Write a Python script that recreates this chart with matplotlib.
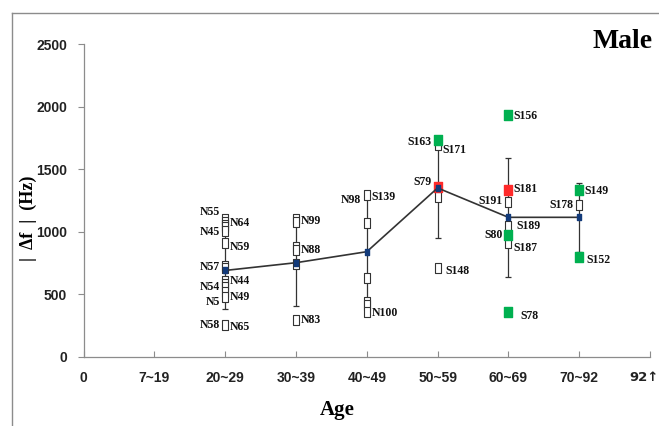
import matplotlib
matplotlib.use("Agg")
import matplotlib.pyplot as plt
from matplotlib.path import Path
from matplotlib.lines import Line2D
from matplotlib.transforms import ScaledTranslation

# ---------------- data ----------------
tick_labels = ["0", "7~19", "20~29", "30~39", "40~49", "50~59", "60~69", "70~92", "92\u2191"]
groups = ["20~29", "30~39", "40~49", "50~59", "60~69", "70~92"]
mean_vals = [690, 752, 840, 1350, 1115, 1115]
sd_vals = [305, 345, 420, 400, 478, 275]

# individual subjects (open squares)
open_20_29 = [1099, 1078, 1056, 1035, 1008, 912, 726, 710, 608, 582, 555, 520, 480, 250]
open_30_39 = [1100, 1075, 880, 855, 745, 295]
open_40_49 = [1294, 1067, 627, 440, 410, 360]
open_50_59 = [1720, 1690, 1280, 712]
open_60_69 = [1236, 1048, 906]
open_70_92 = [1210]

# highlighted subjects
green_group = ["50~59", "60~69", "60~69", "60~69", "70~92", "70~92"]
green_vals = [1735, 1935, 976, 355, 1331, 801]
red_group = ["50~59", "60~69"]
red_vals = [1355, 1336]

# point labels: text, group, value where label sits, side
lab_text = ["N55", "N64", "N45", "N59", "N57", "N44", "N54", "N49", "N5", "N58", "N65",
            "N99", "N88", "N83", "N98", "S139", "N100",
            "S163", "S171", "S79", "S148",
            "S156", "S181", "S191", "S189", "S80", "S187", "S78",
            "S149", "S178", "S152"]
lab_group = ["20~29"] * 11 + ["30~39"] * 3 + ["40~49"] * 3 + ["50~59"] * 4 + ["60~69"] * 7 + ["70~92"] * 3
lab_vals = [1160, 1067, 1000, 875, 715, 608, 555, 480, 440, 254, 240,
            1088, 854, 294, 1254, 1280, 347,
            1720, 1654, 1400, 688,
            1928, 1339, 1248, 1046, 974, 867, 326,
            1328, 1214, 774]
lab_side = ["L", "R", "L", "R", "L", "R", "L", "R", "L", "L", "R",
            "R", "R", "R", "L", "R", "R",
            "L", "R", "L", "R2",
            "R", "R", "L", "R2", "L", "R", "R3",
            "R", "L", "R2"]

# ---------------- drawing ----------------
pos = {g: i + 2 for i, g in enumerate(groups)}
rect = Path([(-0.7, -1), (0.7, -1), (0.7, 1), (-0.7, 1), (-0.7, -1)],
            [Path.MOVETO, Path.LINETO, Path.LINETO, Path.LINETO, Path.CLOSEPOLY])

fig = plt.figure(figsize=(6.59, 4.26), dpi=100)
ax = fig.add_axes([83.6 / 659, 1 - 356.7 / 426, (650 - 83.6) / 659, (356.7 - 44.2) / 426])

serif = ["Liberation Serif", "DejaVu Serif"]
tick_family = ["Liberation Sans", "DejaVu Sans"]

# error bars
xm = [pos[g] for g in groups]
ax.errorbar(xm, mean_vals, yerr=sd_vals, fmt="none", ecolor="#333333",
            elinewidth=0.9, capsize=2, capthick=0.9, zorder=2)

# open squares
opens = [open_20_29, open_30_39, open_40_49, open_50_59, open_60_69, open_70_92]
for g, vals in zip(groups, opens):
    ax.plot([pos[g]] * len(vals), vals, linestyle="none", marker=rect, markersize=6.5,
            markerfacecolor="white", markeredgecolor="#333333", markeredgewidth=0.8, zorder=3)

# green and red
ax.plot([pos[g] for g in green_group], green_vals, linestyle="none", marker=rect,
        markersize=7.5, markerfacecolor="#00b050", markeredgecolor="#00b050", zorder=4)
ax.plot([pos[g] for g in red_group], red_vals, linestyle="none", marker=rect,
        markersize=7.5, markerfacecolor="#ff2a2a", markeredgecolor="#ff2a2a", zorder=4)

# mean line
ax.plot(xm, mean_vals, color="#333333", linewidth=1.2, zorder=5)
ax.plot(xm, mean_vals, linestyle="none", marker=rect, markersize=5,
        markerfacecolor="#123a7a", markeredgecolor="#123a7a", zorder=6)

# labels
offs = {"L": (-4, "right"), "R": (3.5, "left"), "R2": (5.5, "left"), "R3": (8.5, "left")}
for t, g, v, s in zip(lab_text, lab_group, lab_vals, lab_side):
    dx, ha = offs[s]
    ax.annotate(t, (pos[g], v), xytext=(dx, 0), textcoords="offset points",
                ha=ha, va="center", fontsize=8.5, fontweight="bold", family=serif,
                color="#111111", zorder=7)

# axes styling
ax.set_xlim(0, 8)
ax.set_ylim(0, 2500)
ax.set_xticks(range(len(tick_labels)))
ax.set_xticklabels(tick_labels)
ax.set_yticks([0, 500, 1000, 1500, 2000, 2500])
for sp in ["top", "right"]:
    ax.spines[sp].set_visible(False)
for sp in ["left", "bottom"]:
    ax.spines[sp].set_color("#8c8c8c")
    ax.spines[sp].set_linewidth(0.9)
ax.tick_params(axis="x", direction="in", length=4, color="#8c8c8c", pad=10)
ax.tick_params(axis="y", direction="out", length=4, color="#8c8c8c", pad=8)
for lab in ax.get_xticklabels() + ax.get_yticklabels():
    lab.set_family(tick_family)
    lab.set_fontweight("bold")
    lab.set_fontsize(10)
    lab.set_color("#222222")
last = ax.get_xticklabels()[-1]
last.set_family(["DejaVu Sans"])
last.set_fontsize(9.5)
last.set_transform(last.get_transform() + ScaledTranslation(-6 / 100, 0, fig.dpi_scale_trans))

# titles
fig.text(337 / 659, 1 - 410 / 426, "Age", ha="center", va="center",
         fontsize=15, fontweight="bold", family=serif)
fig.text(28 / 659, 1 - 218 / 426, "|  \u0394f  |  (Hz)", ha="center", va="center",
         rotation=90, fontsize=13, fontweight="bold", family=serif)
fig.text(653 / 659, 1 - 41 / 426, "Male", ha="right", va="center",
         fontsize=20, fontweight="bold", family=serif)

# frame lines
fig.add_artist(Line2D([12 / 659, 12 / 659], [0, 1 - 13 / 426], transform=fig.transFigure,
                      color="#8c8c8c", linewidth=1.0))
fig.add_artist(Line2D([12 / 659, 1], [1 - 13 / 426, 1 - 13 / 426], transform=fig.transFigure,
                      color="#8c8c8c", linewidth=1.0))

fig.savefig("out.png", dpi=100)
